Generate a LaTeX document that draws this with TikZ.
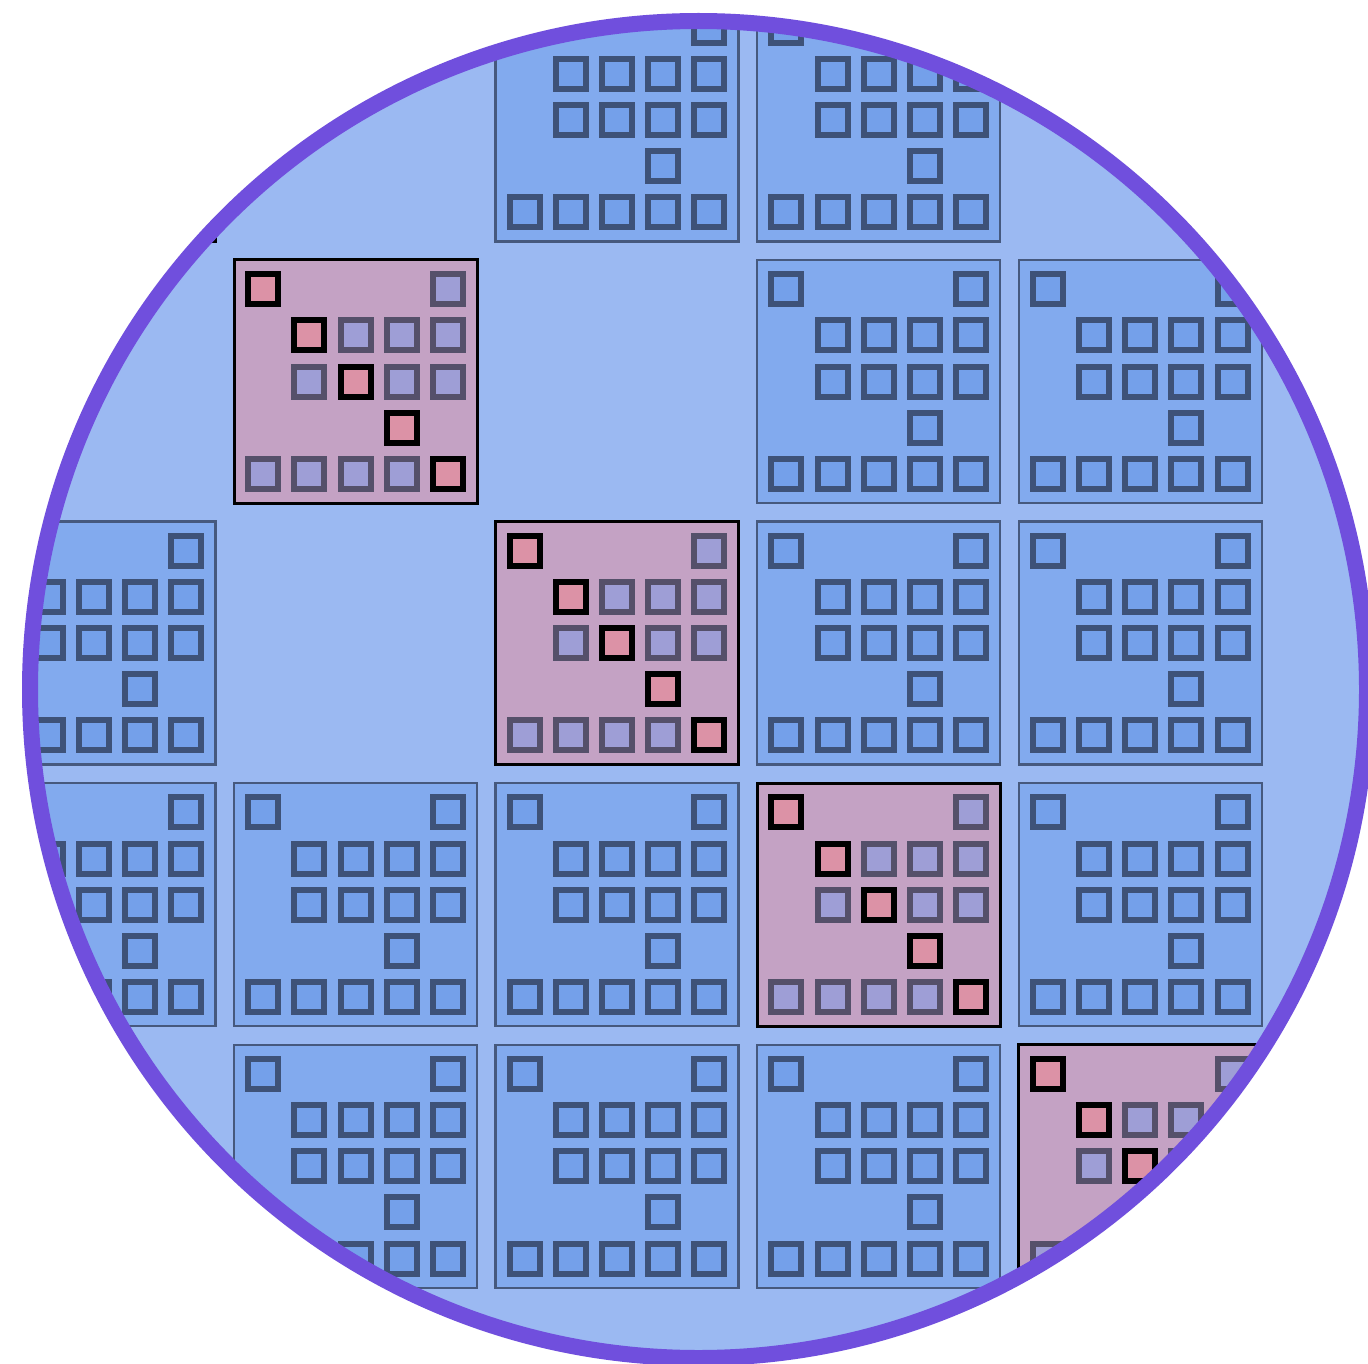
\documentclass[tikz,border=0pt]{standalone}
\definecolor{wafer}{HTML}{9BB9F2}
\definecolor{rim}{HTML}{704FDD}
\definecolor{dieblue}{HTML}{82AAEE}
\definecolor{dieblueline}{HTML}{46597E}
\definecolor{sqblue}{HTML}{74A0EA}
\definecolor{sqblueline}{HTML}{3E5278}
\definecolor{diepink}{HTML}{C4A2C4}
\definecolor{sqlav}{HTML}{9E9ED6}
\definecolor{sqlavline}{HTML}{55506A}
\definecolor{sqrose}{HTML}{DC92A6}
\tikzset{
  dieb/.style={fill=dieblue, draw=dieblueline, line width=2.5},
  diep/.style={fill=diepink, draw=black, line width=3},
  sqb/.style={fill=sqblue, draw=sqblueline, line width=6},
  sqp/.style={fill=sqlav, draw=sqlavline, line width=6},
  sqpd/.style={fill=sqrose, draw=black, line width=6},
  rimline/.style={draw=rim, line width=16}
}
\begin{document}
\begin{tikzpicture}[x=1pt,y=-1pt]
\useasboundingbox (0,0) rectangle (1368,1364);
\fill[white] (0,0) rectangle (1368,1364);
\coordinate (ctr) at (698.5,689.5);
\begin{scope}
  \clip (ctr) circle (668.5);
  \fill[wafer] (ctr) circle (668.5);
  \foreach \c/\r/\k in {-1/0/1, 1/0/0, 2/0/0,
                        0/1/1, 2/1/0, 3/1/0,
                        -1/2/0, 1/2/1, 2/2/0, 3/2/0,
                        -1/3/0, 0/3/0, 1/3/0, 2/3/1, 3/3/0,
                        0/4/0, 1/4/0, 2/4/0, 3/4/1} {
    \pgfmathsetmacro\dx{234+261.6*\c}
    \pgfmathsetmacro\dy{260+261.6*(\r-1)}
    \begin{scope}[shift={(\dx,\dy)}]
      \ifnum\k=1
        \draw[diep] (0,0) rectangle (243,243);
      \else
        \draw[dieb] (0,0) rectangle (243,243);
      \fi
      \foreach \i/\j in {0/0,4/0,1/1,2/1,3/1,4/1,1/2,2/2,3/2,4/2,3/3,0/4,1/4,2/4,3/4,4/4} {
        \pgfmathsetmacro\sx{14.2+46.15*\i}
        \pgfmathsetmacro\sy{14.2+46.15*\j}
        \ifnum\k=1
          \ifnum\i=\j\relax
            \draw[sqpd] (\sx,\sy) rectangle ++(30,30);
          \else
            \draw[sqp] (\sx,\sy) rectangle ++(30,30);
          \fi
        \else
          \draw[sqb] (\sx,\sy) rectangle ++(30,30);
        \fi
      }
    \end{scope}
  }
\end{scope}
\draw[rimline] (ctr) circle (668.5);
\end{tikzpicture}
\end{document}
